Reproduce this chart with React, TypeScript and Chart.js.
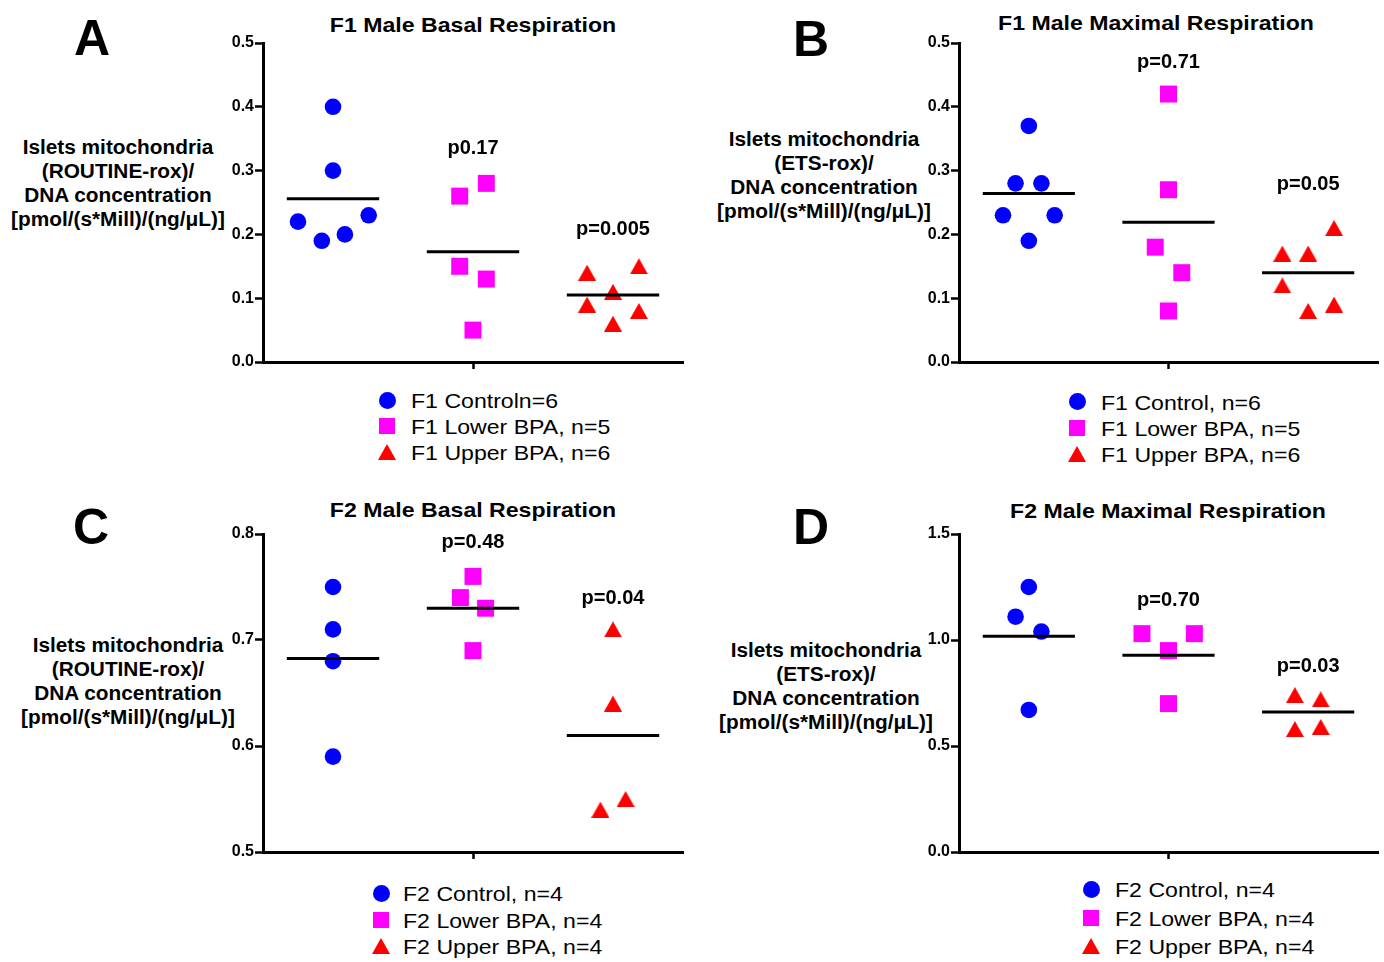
import React, { useEffect, useRef } from "react";
import { Chart, registerables } from "chart.js";

Chart.register(...registerables);

// ---------- data ----------
const groupCenters = [1, 3, 5];

// Panel A – F1 Male Basal Respiration
const aControlX = [1, 1, 0.5, 0.84, 1.17, 1.51];
const aControlY = [0.4, 0.3, 0.22, 0.19, 0.2, 0.23];
const aLowerX = [2.81, 3.19, 2.81, 3.19, 3];
const aLowerY = [0.26, 0.28, 0.15, 0.13, 0.05];
const aUpperX = [4.63, 5.37, 5, 4.63, 5.37, 5];
const aUpperY = [0.14, 0.15, 0.11, 0.09, 0.08, 0.06];
const aMeans = [0.256, 0.173, 0.105];
const aPText = ["p0.17", "p=0.005"];
const aPY = [0.335, 0.207];
const aLegend = ["F1 Controln=6", "F1 Lower BPA, n=5", "F1 Upper BPA, n=6"];

// Panel B – F1 Male Maximal Respiration
const bControlX = [1, 0.81, 1.18, 0.63, 1.37, 1];
const bControlY = [0.37, 0.28, 0.28, 0.23, 0.23, 0.19];
const bLowerX = [3, 3, 2.81, 3.19, 3];
const bLowerY = [0.42, 0.27, 0.18, 0.14, 0.08];
const bUpperX = [5.37, 4.63, 5, 4.63, 5, 5.37];
const bUpperY = [0.21, 0.17, 0.17, 0.12, 0.08, 0.09];
const bMeans = [0.264, 0.219, 0.14];
const bPText = ["p=0.71", "p=0.05"];
const bPY = [0.47, 0.279];
const bLegend = ["F1 Control, n=6", "F1 Lower BPA, n=5", "F1 Upper BPA, n=6"];

// Panel C – F2 Male Basal Respiration
const cControlX = [1, 1, 1, 1];
const cControlY = [0.75, 0.71, 0.68, 0.59];
const cLowerX = [3, 2.82, 3.18, 3];
const cLowerY = [0.76, 0.74, 0.73, 0.69];
const cUpperX = [5, 5, 4.82, 5.18];
const cUpperY = [0.71, 0.64, 0.54, 0.55];
const cMeans = [0.6825, 0.73, 0.61];
const cPText = ["p=0.48", "p=0.04"];
const cPY = [0.792, 0.739];
const cLegend = ["F2 Control, n=4", "F2 Lower BPA, n=4", "F2 Upper BPA, n=4"];

// Panel D – F2 Male Maximal Respiration
const dControlX = [1, 0.81, 1.18, 1];
const dControlY = [1.25, 1.11, 1.04, 0.67];
const dLowerX = [2.62, 3.37, 3, 3];
const dLowerY = [1.03, 1.03, 0.95, 0.7];
const dUpperX = [4.81, 5.18, 4.81, 5.18];
const dUpperY = [0.74, 0.72, 0.58, 0.59];
const dMeans = [1.018, 0.928, 0.66];
const dPText = ["p=0.70", "p=0.03"];
const dPY = [1.185, 0.875];
const dLegend = ["F2 Control, n=4", "F2 Lower BPA, n=4", "F2 Upper BPA, n=4"];

const yTitleRoutine = ["Islets mitochondria", "(ROUTINE-rox)/", "DNA concentration", "[pmol/(s*Mill)/(ng/\u03BCL)]"];
const yTitleEts = ["Islets mitochondria", "(ETS-rox)/", "DNA concentration", "[pmol/(s*Mill)/(ng/\u03BCL)]"];

// ---------- styles / layout ----------
const FONT = '"Liberation Sans", Arial, Helvetica, sans-serif';
const BLUE = "#0000ff";
const MAGENTA = "#ff00ff";
const RED = "#ff0000";
const Y_AXIS_W = 50;
const PAD_TOP = 12;
const PAD_RIGHT = 10;
const X_AXIS_H = 14;

const panels = [
  {
    letter: "A", letterPos: [92, 38],
    title: "F1 Male Basal Respiration", titlePos: [473, 24],
    yTitle: yTitleRoutine, yTitlePos: [118, 146.5],
    legend: aLegend, legendSym: 387, legendText: 411, legendRows: [400, 426, 452],
    area: { x0: 263, x1: 683, y0: 43, y1: 362 },
    yMin: 0, yMax: 0.5, yStep: 0.1,
    control: [aControlX, aControlY], lower: [aLowerX, aLowerY], upper: [aUpperX, aUpperY],
    means: aMeans, pText: aPText, pY: aPY,
  },
  {
    letter: "B", letterPos: [811, 38.5],
    title: "F1 Male Maximal Respiration", titlePos: [1156, 22],
    yTitle: yTitleEts, yTitlePos: [824, 139],
    legend: bLegend, legendSym: 1077, legendText: 1101, legendRows: [401.5, 428, 453.5],
    area: { x0: 959, x1: 1378, y0: 43, y1: 362 },
    yMin: 0, yMax: 0.5, yStep: 0.1,
    control: [bControlX, bControlY], lower: [bLowerX, bLowerY], upper: [bUpperX, bUpperY],
    means: bMeans, pText: bPText, pY: bPY,
  },
  {
    letter: "C", letterPos: [91, 527],
    title: "F2 Male Basal Respiration", titlePos: [473, 509],
    yTitle: yTitleRoutine, yTitlePos: [128, 645],
    legend: cLegend, legendSym: 381, legendText: 403, legendRows: [893, 920, 946],
    area: { x0: 263, x1: 683, y0: 534, y1: 852 },
    yMin: 0.5, yMax: 0.8, yStep: 0.1,
    control: [cControlX, cControlY], lower: [cLowerX, cLowerY], upper: [cUpperX, cUpperY],
    means: cMeans, pText: cPText, pY: cPY,
  },
  {
    letter: "D", letterPos: [811, 527],
    title: "F2 Male Maximal Respiration", titlePos: [1168, 510],
    yTitle: yTitleEts, yTitlePos: [826, 650],
    legend: dLegend, legendSym: 1091, legendText: 1115, legendRows: [889, 918, 946],
    area: { x0: 959, x1: 1378, y0: 534, y1: 852 },
    yMin: 0, yMax: 1.5, yStep: 0.5,
    control: [dControlX, dControlY], lower: [dLowerX, dLowerY], upper: [dUpperX, dUpperY],
    means: dMeans, pText: dPText, pY: dPY,
  },
];

function makeTriangle(w: number, h: number, color: string) {
  const c = document.createElement("canvas");
  c.width = w;
  c.height = h;
  const ctx = c.getContext("2d")!;
  ctx.fillStyle = color;
  ctx.beginPath();
  ctx.moveTo(w / 2, 0);
  ctx.lineTo(w, h);
  ctx.lineTo(0, h);
  ctx.closePath();
  ctx.fill();
  return c;
}

const pLabelPlugin = {
  id: "pLabels",
  afterDatasetsDraw(chart: any, _args: any, opts: any) {
    const { ctx, scales } = chart;
    ctx.save();
    ctx.font = `bold 20px ${FONT}`;
    ctx.fillStyle = "#000";
    ctx.textAlign = "center";
    ctx.textBaseline = "middle";
    (opts.labels || []).forEach((l: any) => {
      ctx.fillText(l.text, scales.x.getPixelForValue(l.x), scales.y.getPixelForValue(l.y));
    });
    ctx.restore();
  },
};

function PanelChart({ p }: { p: any }) {
  const ref = useRef<HTMLCanvasElement | null>(null);
  const { x0, x1, y0, y1 } = p.area;
  const w = x1 - x0 + Y_AXIS_W + PAD_RIGHT;
  const h = y1 - y0 + PAD_TOP + X_AXIS_H;

  useEffect(() => {
    const tri = makeTriangle(18, 16, RED);
    const pts = (xs: number[], ys: number[]) => ys.map((y, i) => ({ x: xs[i], y }));
    const meanSets = p.means.map((m: number, i: number) => ({
      type: "line",
      data: [
        { x: groupCenters[i] - 0.66, y: m },
        { x: groupCenters[i] + 0.66, y: m },
      ],
      borderColor: "#000",
      borderWidth: 3,
      pointRadius: 0,
      fill: false,
      order: 0,
    }));
    const chart = new Chart(ref.current!, {
      type: "scatter",
      data: {
        datasets: [
          ...meanSets,
          {
            data: pts(p.control[0], p.control[1]),
            pointStyle: "circle", pointRadius: 8.3, backgroundColor: BLUE, borderWidth: 0, order: 1,
          },
          {
            data: pts(p.lower[0], p.lower[1]),
            pointStyle: "rect", pointRadius: 12, backgroundColor: MAGENTA, borderWidth: 0, order: 1,
          },
          {
            data: pts(p.upper[0], p.upper[1]),
            pointStyle: tri, pointRadius: 9, backgroundColor: RED, borderWidth: 0, order: 1,
          },
        ] as any,
      },
      options: {
        animation: false,
        responsive: false,
        devicePixelRatio: 1,
        layout: { padding: { top: PAD_TOP, right: PAD_RIGHT, bottom: 0, left: 0 }, autoPadding: false },
        plugins: {
          legend: { display: false },
          tooltip: { enabled: false },
          pLabels: { labels: p.pText.map((t: string, i: number) => ({ text: t, x: groupCenters[i + 1], y: p.pY[i] })) },
        } as any,
        scales: {
          x: {
            type: "linear",
            min: 0,
            max: 6,
            afterBuildTicks: (s: any) => { s.ticks = [{ value: groupCenters[1] }]; },
            afterFit: (s: any) => { s.height = X_AXIS_H; },
            ticks: { callback: () => "" },
            grid: { display: true, drawOnChartArea: false, drawTicks: true, tickLength: 7, tickWidth: 2.5, color: "#000" },
            border: { display: true, color: "#000", width: 3 },
          },
          y: {
            type: "linear",
            min: p.yMin,
            max: p.yMax,
            afterFit: (s: any) => { s.width = Y_AXIS_W; },
            ticks: {
              stepSize: p.yStep,
              padding: 1,
              color: "#000",
              font: { family: "Liberation Sans", size: 16, weight: "bold" },
              callback: (v: any) => Number(v).toFixed(1),
            },
            grid: { display: true, drawOnChartArea: false, drawTicks: true, tickLength: 8, tickWidth: 2.5, color: "#000" },
            border: { display: true, color: "#000", width: 3 },
          },
        },
      } as any,
      plugins: [pLabelPlugin],
    });
    return () => chart.destroy();
  }, []);

  return (
    <canvas
      ref={ref}
      width={w}
      height={h}
      style={{ position: "absolute", left: x0 - Y_AXIS_W, top: y0 - PAD_TOP, width: w, height: h }}
    />
  );
}

function Txt({ x, y, text, size, bold, align = "center", sx = 1 }: any) {
  const tx = align === "center" ? "-50%" : "0";
  return (
    <div
      style={{
        position: "absolute",
        left: x,
        top: y,
        transform: `translate(${tx},-50%) scaleX(${sx})`,
        transformOrigin: align === "center" ? "center center" : "left center",
        font: `${bold ? "bold " : ""}${size}px ${FONT}`,
        lineHeight: 1,
        whiteSpace: "nowrap",
        color: "#000",
      }}
    >
      {text}
    </div>
  );
}

function Symbol({ kind, x, y }: any) {
  if (kind === 0)
    return <div style={{ position: "absolute", left: x - 8.5, top: y - 8.5, width: 17, height: 17, borderRadius: "50%", background: BLUE }} />;
  if (kind === 1)
    return <div style={{ position: "absolute", left: x - 8, top: y - 8, width: 16, height: 16, background: MAGENTA }} />;
  return (
    <div
      style={{
        position: "absolute",
        left: x - 9,
        top: y - 8,
        width: 0,
        height: 0,
        borderLeft: "9px solid transparent",
        borderRight: "9px solid transparent",
        borderBottom: `16px solid ${RED}`,
      }}
    />
  );
}

function Panel({ p }: { p: any }) {
  return (
    <>
      <Txt x={p.letterPos[0]} y={p.letterPos[1]} text={p.letter} size={50} bold />
      <Txt x={p.titlePos[0]} y={p.titlePos[1]} text={p.title} size={21} bold sx={1.1} />
      {p.yTitle.map((t: string, i: number) => (
        <Txt key={i} x={p.yTitlePos[0]} y={p.yTitlePos[1] + i * 24} text={t} size={20} bold sx={1.04} />
      ))}
      <PanelChart p={p} />
      {p.legend.map((t: string, i: number) => (
        <React.Fragment key={i}>
          <Symbol kind={i} x={p.legendSym} y={p.legendRows[i]} />
          <Txt x={p.legendText} y={p.legendRows[i]} text={t} size={21} align="left" sx={1.1} />
        </React.Fragment>
      ))}
    </>
  );
}

export default function App() {
  return (
    <div style={{ position: "absolute", left: 0, top: 0, width: 1384, height: 962, overflow: "hidden", background: "#fff" }}>
      {panels.map((p) => (
        <Panel key={p.letter} p={p} />
      ))}
    </div>
  );
}
